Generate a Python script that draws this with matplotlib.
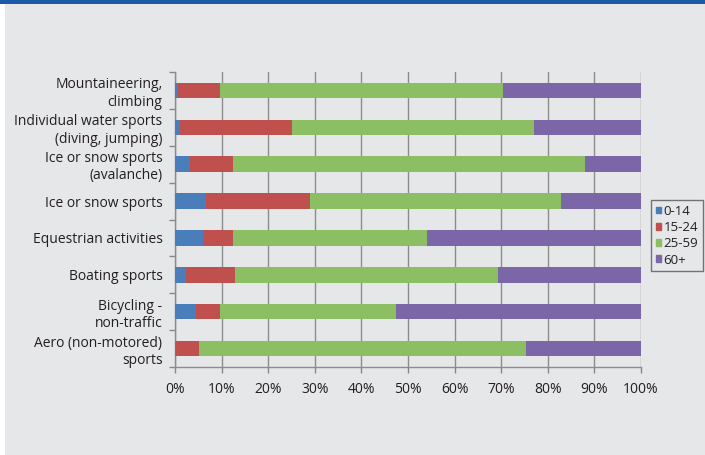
import matplotlib.pyplot as plt
import matplotlib.patches as mpatches
import numpy as np

plt.rcParams.update({
    'font.family': ['Open Sans', 'DejaVu Sans'],
    'font.size': 10,
    'text.color': '#231f20',
    'xtick.color': '#888888',
    'ytick.color': '#888888',
    'xtick.labelcolor': '#231f20',
    'ytick.labelcolor': '#231f20',
})

# --- Data (percent share by age group) ---
categories = [
    'Aero (non-motored)\nsports',
    'Bicycling -\nnon-traffic',
    'Boating sports',
    'Equestrian activities',
    'Ice or snow sports',
    'Ice or snow sports\n(avalanche)',
    'Individual water sports\n(diving, jumping)',
    'Mountaineering,\nclimbing',
]
age_groups = ['0-14', '15-24', '25-59', '60+']
share_0_14 = [0.2, 4.4, 2.3, 6.0, 6.6, 3.2, 1.1, 0.6]
share_15_24 = [5.0, 5.3, 10.6, 6.4, 22.4, 9.2, 24.0, 9.1]
share_25_59 = [70.1, 37.7, 56.4, 41.7, 53.8, 75.6, 51.9, 60.7]
share_60p = [24.7, 52.6, 30.7, 45.9, 17.2, 12.0, 23.0, 29.6]
colors = ['#4a7ebb', '#c0504d', '#8cbe64', '#7b66a8']

bg = '#e6e7e9'
fig = plt.figure(figsize=(7.05, 4.55), dpi=100)
fig.patch.set_facecolor('white')
# grey panel and blue top band
fig.add_artist(mpatches.Rectangle((5 / 705, 0), 700 / 705, 1,
                                  transform=fig.transFigure, facecolor=bg,
                                  edgecolor='none', zorder=0))
fig.add_artist(mpatches.Rectangle((0, 451 / 455), 1, 4 / 455,
                                  transform=fig.transFigure, facecolor='#1a5aa6',
                                  edgecolor='none', zorder=0))

ax = fig.add_axes([175 / 705, 88 / 455, 466 / 705, 295 / 455])
ax.set_facecolor('none')

y = np.arange(len(categories))
left = np.zeros(len(categories))
for vals, col, lab in zip([share_0_14, share_15_24, share_25_59, share_60p],
                          colors, age_groups):
    ax.barh(y, vals, left=left, height=0.42, color=col, label=lab, zorder=3)
    left += np.array(vals)

ax.set_xlim(0, 100)
ax.set_ylim(-0.5, len(categories) - 0.5)
ax.set_xticks(np.arange(0, 101, 10))
ax.set_xticklabels([f'{v}%' for v in range(0, 101, 10)])
ax.xaxis.grid(True, color='#8c8c8c', linewidth=1, zorder=1)
ax.set_axisbelow(True)

ax.set_yticks(y)
ax.set_yticklabels(categories)
for t in ax.get_yticklabels():
    t.set_multialignment('right')
    t.set_linespacing(1.2)
ax.set_yticks(np.arange(-0.5, len(categories), 1), minor=True)
ax.tick_params(axis='y', which='major', length=0, pad=9)
ax.tick_params(axis='y', which='minor', length=4, width=1, direction='out')
ax.tick_params(axis='x', which='major', length=4, width=1, direction='out', pad=7)

for s in ['top', 'right']:
    ax.spines[s].set_visible(False)
for s in ['left', 'bottom']:
    ax.spines[s].set_color('#8c8c8c')
    ax.spines[s].set_linewidth(1)

handles = [mpatches.Patch(color=c, label=l) for c, l in zip(colors, age_groups)]
leg = ax.legend(handles=handles, loc='upper right',
                bbox_to_anchor=(703 / 705, 1 - 200 / 455),
                bbox_transform=fig.transFigure, frameon=True, fancybox=False,
                handlelength=0.4, handleheight=0.4, handletextpad=0.2,
                borderpad=0.35, labelspacing=0.25, borderaxespad=0,
                fontsize=9.5)
leg.get_frame().set_edgecolor('#555555')
leg.get_frame().set_facecolor('none')
leg.get_frame().set_linewidth(1)

fig.savefig('out.png', dpi=100, facecolor=fig.get_facecolor())
